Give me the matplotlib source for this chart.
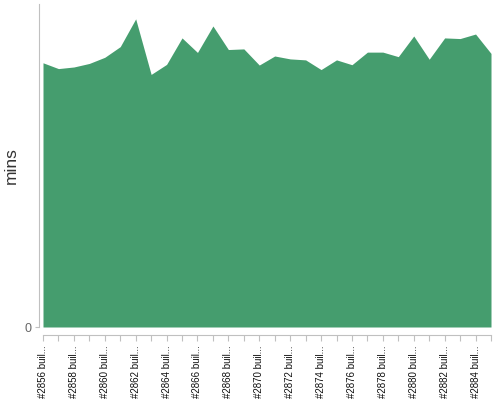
import matplotlib
matplotlib.use("Agg")
import matplotlib.pyplot as plt
import numpy as np

builds = [f"#{n} buil..." for n in range(2856, 2886)]
mins = [81.8, 80.0, 80.5, 81.6, 83.5, 86.8, 95.4, 78.2, 81.3, 89.5,
        85.0, 93.2, 85.9, 86.1, 81.1, 83.9, 83.0, 82.7, 79.7, 82.7,
        81.2, 85.1, 85.1, 83.7, 90.1, 82.9, 89.5, 89.3, 90.7, 84.7]

color = "#459d6e"
fig = plt.figure(figsize=(5, 4), dpi=100)
ax = fig.add_axes([0.086, 0.1825, 0.896, 0.8075])
x = np.arange(len(builds))
ax.fill_between(x, 0, mins, color=color, linewidth=0)
ax.set_xlim(0, len(builds) - 1)
ax.set_ylim(0, 100)

for s in ["top", "right"]:
    ax.spines[s].set_visible(False)
ax.spines["left"].set_position(("outward", 3))
ax.spines["bottom"].set_position(("outward", 6))
ax.spines["left"].set_color("#c0c0c0")
ax.spines["bottom"].set_color("#c0c0c0")

ax.set_yticks([0])
ax.set_yticklabels(["0"], fontsize=9, color="#666666", family="Liberation Sans")
ax.tick_params(axis="y", length=3, color="#c0c0c0", pad=2)

ax.set_xticks(x)
ax.set_xticklabels([b if i % 2 == 0 else "" for i, b in enumerate(builds)],
                   rotation=90, fontsize=7, color="#111111", family="Liberation Sans")
ax.tick_params(axis="x", length=4, color="#c0c0c0", pad=3)

ax.set_ylabel("mins", fontsize=12.5, color="#333333", family="Liberation Sans")
ax.yaxis.set_label_coords(-0.054, 0.5)

fig.savefig("out.png", dpi=100)
